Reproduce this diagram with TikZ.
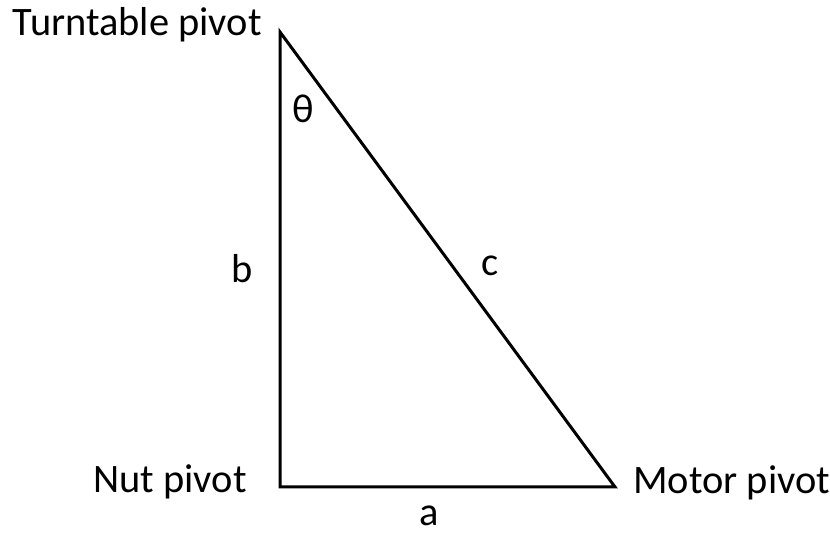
\documentclass[tikz,border=0pt]{standalone}
\usepackage{fontspec}
\setmainfont{Carlito}
\usepackage{tikz}
\usetikzlibrary{positioning,calc}
\definecolor{ink}{HTML}{000000}
\tikzset{
  every node/.style={font=\fontsize{20.2}{24}\selectfont,text=ink,inner sep=0pt},
  side/.style={draw=ink,line width=1.5pt,line join=miter},
  pivotlabel/.style={anchor=base west},
  sidelabel/.style={anchor=base}
}
\begin{document}
\begin{tikzpicture}[x=0.5pt,y=-0.5pt]
  \useasboundingbox (0,0) rectangle (830,533);
  \coordinate (turntable) at (280,32);
  \coordinate (nut) at (280,487);
  \coordinate (motor) at (615,487);

  \node[pivotlabel,anchor=base east] (turntableLabel) at (262,36) {Turntable pivot};
  \node[pivotlabel,anchor=base east] (nutLabel) at (247,493) {Nut pivot};
  \node[pivotlabel] (motorLabel) at (633,494) {Motor pivot};

  \node[sidelabel] (angle) at (303,123) {θ};
  \node[sidelabel] (sideB) at (242,283) {b};
  \node[sidelabel] (sideC) at (490,276) {c};
  \node[sidelabel] (sideA) at (429,526) {a};

  \draw[side] (turntable)--(nut)--(motor)--cycle;
\end{tikzpicture}
\end{document}
